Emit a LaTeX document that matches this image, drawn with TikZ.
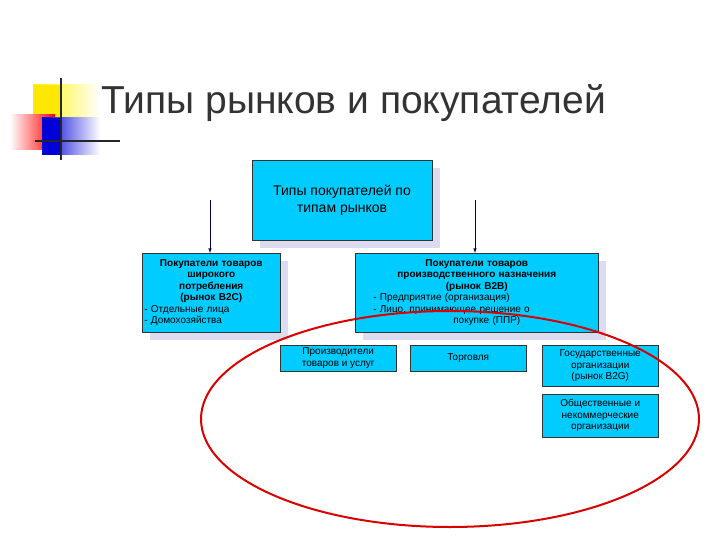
\documentclass[tikz,border=0pt]{standalone}
\usepackage{fontspec}
\setmainfont{Liberation Sans}
\begin{document}
\begin{tikzpicture}[x=1pt,y=-1pt,
  bx/.style={fill=cyan!80!blue!60!white, fill=boxc, draw=black!80, line width=0.5pt, align=center, inner sep=1pt, font=\fontsize{10}{11.5}\selectfont},
  sh/.style={fill=shc},
  arr/.style={->, >=latex, draw=black!70!blue, line width=0.6pt}]
\definecolor{boxc}{RGB}{0,204,255}
\definecolor{shc}{RGB}{220,220,240}
\useasboundingbox (0,0) rectangle (720,540);
% logo
\shade[left color=yellow!90!orange, right color=white] (33,85) rectangle (100,120);
\fill[yellow!90!orange] (33,85) rectangle (60,120);
\shade[left color=white, right color=red] (10,115) rectangle (55,150);
\shade[left color=blue!85!black, right color=white] (42,118) rectangle (100,155);
\fill[blue!85!black] (42,118) rectangle (62,155);
\draw[black!85, line width=2pt] (61,78) -- (61,160);
\draw[black!85, line width=2pt] (35,141) -- (120,141);
\node[anchor=west, font=\fontsize{39}{40}\selectfont, text=black!80] (title) at (98,103) {Типы рынков и покупателей};
% shadows
\fill[sh] (260,168) rectangle (440,248);
\fill[sh] (150,261) rectangle (288,340);
\fill[sh] (363,261) rectangle (606,340);
% boxes
\node[bx, minimum width=180, minimum height=80, font=\fontsize{14}{17}\selectfont] (top) at (342,200) {Типы покупателей по\\типам рынков};
\node[bx, minimum width=138, minimum height=79, anchor=north west, align=left, text width=134] (b2c) at (142,253)
 {\centering\textbf{Покупатели товаров\\широкого\\потребления\\(рынок B2C)}\par\raggedright - Отдельные лица\\- Домохозяйства};
\node[bx, minimum width=243, minimum height=79, anchor=north west, text width=239] (b2b) at (355,253)
 {\centering\textbf{Покупатели товаров\\производственного назначения\\(рынок B2B)}\par\raggedright\hspace*{16pt}- Предприятие (организация)\\\hspace*{16pt}- Лицо, принимающее решение о\\\hspace*{20pt}покупке (ППР)};
\coordinate (a1) at (210,200);
\coordinate (a2) at (475,200);
\draw[arr] (a1) -- (b2c.north -| a1);
\draw[arr] (a2) -- (b2b.north -| a2);
\node[bx, minimum width=116, minimum height=26, anchor=north west] (prod) at (280,345) {Производители\\товаров и услуг};
\node[bx, minimum width=116, minimum height=26, anchor=north west] (torg) at (410,345) {Торговля};
\node[bx, minimum width=116, minimum height=41, anchor=north west] (gov) at (542,345) {Государственные\\организации\\(рынок B2G)};
\node[bx, minimum width=116, minimum height=43, anchor=north west] (ngo) at (542,394) {Общественные и\\некоммерческие\\организации};
% red ellipse
\draw[red!85!black, line width=2pt] (450,419) ellipse [x radius=249, y radius=108];
\end{tikzpicture}
\end{document}
